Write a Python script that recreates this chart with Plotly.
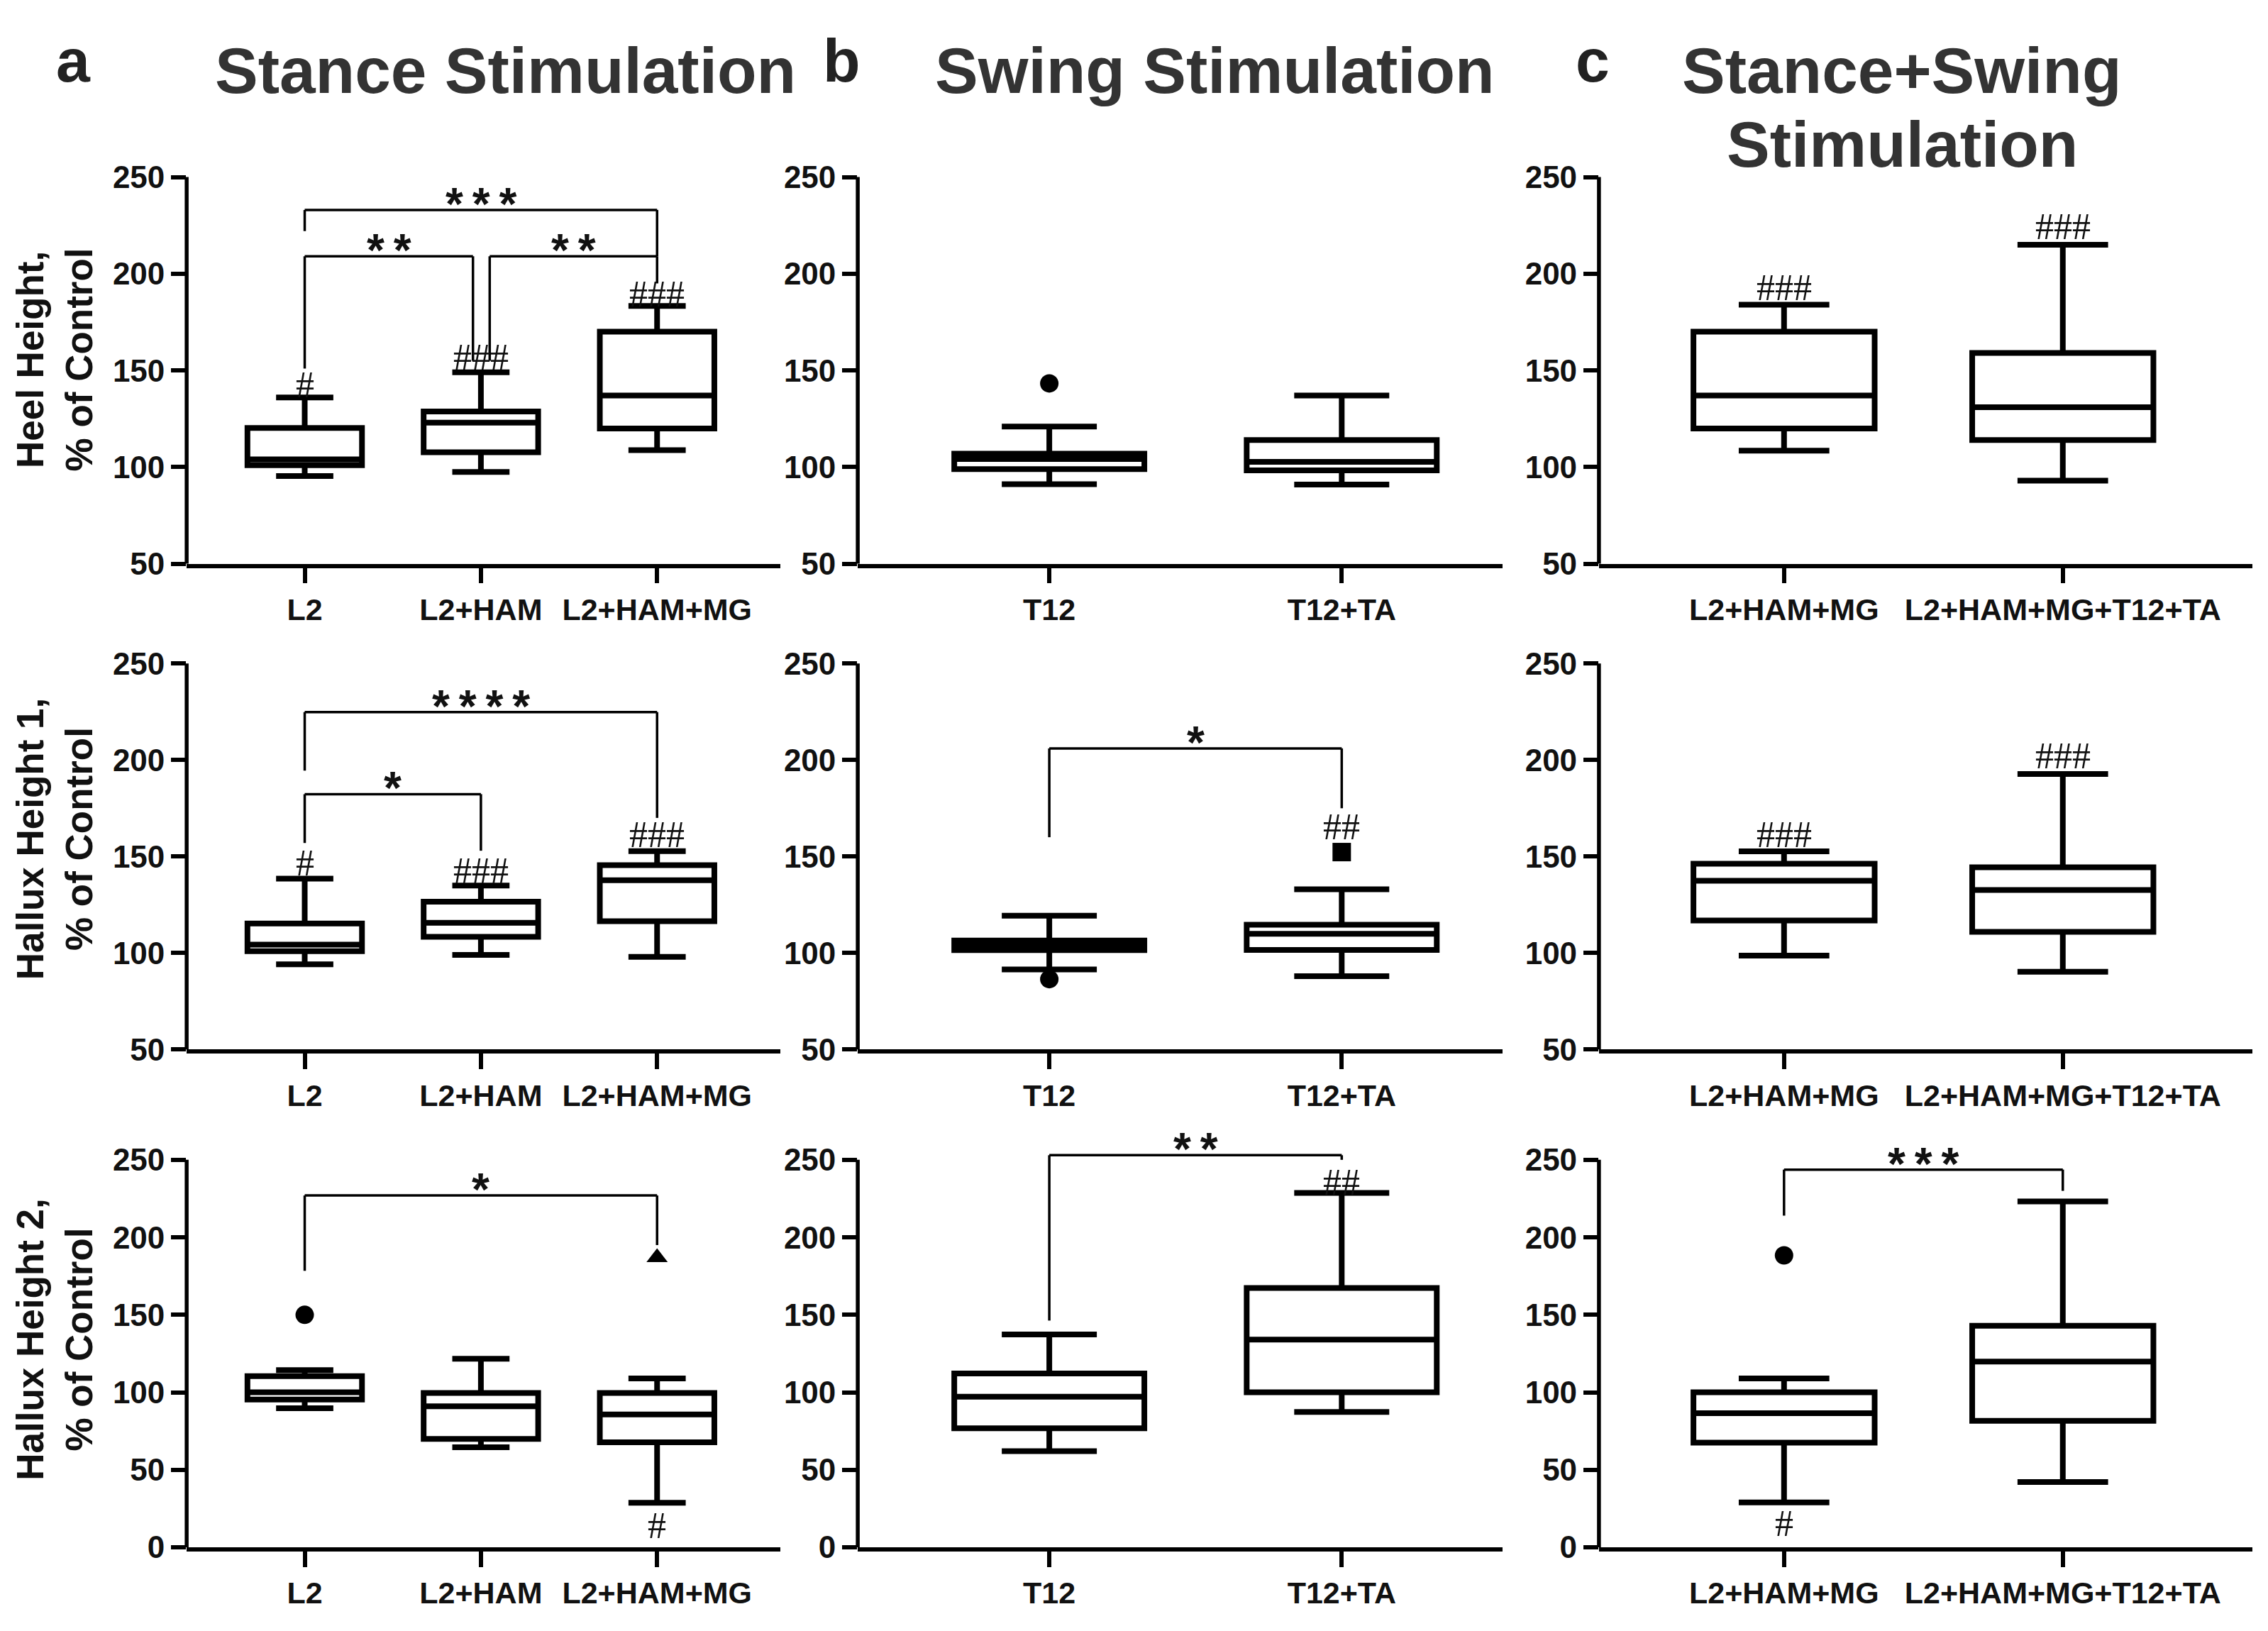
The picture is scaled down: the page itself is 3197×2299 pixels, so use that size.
import plotly.graph_objects as go

# ---------------- data ----------------
cats_stance = ["L2", "L2+HAM", "L2+HAM+MG"]
cats_swing = ["T12", "T12+TA"]
cats_combo = ["L2+HAM+MG", "L2+HAM+MG+T12+TA"]

# five-number summaries per category: (lower whisker, Q1, median, Q3, upper whisker)
heel_stance = [(95.4, 101.0, 104.0, 120.2, 136.0), (97.5, 107.7, 123.0, 128.8, 149.0), (108.8, 120.0, 137.0, 170.0, 183.3)]
heel_swing = [(91.2, 99.0, 104.2, 106.9, 121.0), (91.0, 98.3, 102.7, 114.0, 137.0)]
heel_combo = [(108.5, 120.0, 137.0, 170.0, 184.0), (93.0, 114.0, 131.0, 159.0, 215.0)]

h1_stance = [(94.2, 101.0, 104.4, 115.3, 138.5), (99.0, 108.4, 115.7, 126.6, 135.0), (98.0, 116.5, 137.7, 145.5, 152.8)]
h1_swing = [(91.5, 101.5, 104.0, 106.5, 119.3), (88.0, 101.6, 110.0, 114.7, 133.0)]
h1_combo = [(98.7, 116.9, 137.4, 146.3, 152.7), (90.3, 111.0, 132.7, 144.4, 192.7)]

h2_stance = [(89.7, 95.4, 100.0, 110.5, 114.3), (64.6, 70.0, 91.0, 99.6, 121.7), (28.8, 67.8, 85.7, 99.6, 109.0)]
h2_swing = [(62.1, 76.8, 97.2, 112.2, 137.4), (87.3, 100.0, 134.0, 167.3, 228.7)]
h2_combo = [(29.0, 67.5, 86.5, 100.0, 109.0), (42.2, 81.6, 119.8, 143.0, 223.2)]

# outliers: (category index, value, symbol)
heel_swing_out = [(0, 143.3, "circle")]
h1_swing_out = [(0, 86.5, "circle"), (1, 152.3, "square")]
h2_stance_out = [(0, 150.0, "circle"), (2, 187.0, "triangle-up")]
h2_combo_out = [(0, 188.4, "circle")]

# hash marks: (category index, text, value)
heel_stance_hash = [(0, "#", 142.7), (1, "###", 157.0), (2, "###", 189.6)]
heel_combo_hash = [(0, "###", 192.7), (1, "###", 224.4)]
h1_stance_hash = [(0, "#", 146.6), (1, "###", 142.5), (2, "###", 161.2)]
h1_swing_hash = [(1, "##", 165.3)]
h1_combo_hash = [(0, "###", 161.3), (1, "###", 202.0)]
h2_stance_hash = [(2, "#", 14.1)]
h2_swing_hash = [(1, "##", 235.7)]
h2_combo_hash = [(0, "#", 15.2)]

# significance brackets: (x left, x right, bar height, left arm end, right arm end, stars)
heel_stance_sig = [(0, 2, 233, 222, 209, "***"), (0, 0.955, 209, 151, 155, "**"), (1.05, 2, 209, 155, 195, "**")]
h1_stance_sig = [(0, 2, 224.8, 194.5, 170, "****"), (0, 1, 182.3, 157, 153, "*")]
h2_stance_sig = [(0, 2, 227, 178.4, 195, "*")]
h1_swing_sig = [(0, 1, 206, 160, 175, "*")]
h2_swing_sig = [(0, 1, 253, 146.3, 250, "**")]
h2_combo_sig = [(0, 1, 243.7, 214, 230, "***")]

col_titles = ["Stance Stimulation", "Swing Stimulation"]
row_titles = ["Heel Height,<br>% of Control", "Hallux Height 1,<br>% of Control", "Hallux Height 2,<br>% of Control"]
panel_letters = ["a", "b", "c"]
yticks_top = [50, 100, 150, 200, 250]
yticks_bottom = [0, 50, 100, 150, 200, 250]

# ---------------- layout geometry ----------------
W, H = 3197, 2299
col_dom = [(0.0798, 0.3416), (0.3757, 0.6600), (0.7025, 0.9906)]
col_rng = [(-0.67, 2.70), (-0.655, 1.55), (-0.664, 1.68)]
row_dom = [(0.6542, 0.9118), (0.3532, 0.6104), (0.0448, 0.2993)]
row_lo = [50, 50, 0]
row_hi = 265
row_ticks = [yticks_top, yticks_top, yticks_bottom]
col_cats = [cats_stance, cats_swing, cats_combo]

panels = [
    [(heel_stance, [], heel_stance_hash, heel_stance_sig),
     (heel_swing, heel_swing_out, [], []),
     (heel_combo, [], heel_combo_hash, [])],
    [(h1_stance, [], h1_stance_hash, h1_stance_sig),
     (h1_swing, h1_swing_out, h1_swing_hash, h1_swing_sig),
     (h1_combo, [], h1_combo_hash, [])],
    [(h2_stance, h2_stance_out, h2_stance_hash, h2_stance_sig),
     (h2_swing, [], h2_swing_hash, h2_swing_sig),
     (h2_combo, h2_combo_out, h2_combo_hash, h2_combo_sig)],
]

SANS = "Liberation Sans, Arial, sans-serif"
SERIF = "Liberation Serif, Times New Roman, serif"
BLACK = "#111111"
AXW = 5.5

fig = go.Figure()
annotations = []
shapes = []
layout_axes = {}

for r in range(3):
    for c in range(3):
        n = r * 3 + c + 1
        xa = "x" if n == 1 else f"x{n}"
        ya = "y" if n == 1 else f"y{n}"
        cats = col_cats[c]
        stats, outs, hashes, sigs = panels[r][c]

        for i, (lo, q1, med, q3, hi) in enumerate(stats):
            fig.add_trace(go.Box(
                x=[cats[i]], q1=[q1], median=[med], q3=[q3], lowerfence=[lo], upperfence=[hi],
                xaxis=xa, yaxis=ya, width=0.65, whiskerwidth=0.5, boxpoints=False,
                fillcolor="white", line=dict(color="black", width=8),
                showlegend=False, hoverinfo="skip"))

        for (ci, v, sym) in outs:
            fig.add_trace(go.Scatter(
                x=[cats[ci]], y=[v], mode="markers", xaxis=xa, yaxis=ya,
                marker=dict(symbol=sym, size=26, color="black", line=dict(width=0)),
                showlegend=False, hoverinfo="skip", cliponaxis=False))

        for (ci, txt, v) in hashes:
            annotations.append(dict(
                x=ci, y=v, xref=xa, yref=ya, text=txt, showarrow=False,
                xanchor="center", yanchor="middle",
                font=dict(family=SERIF, size=52, color=BLACK)))

        for (x0, x1, yb, yl, yr, stars) in sigs:
            lw = dict(color="black", width=3.5)
            shapes.append(dict(type="line", xref=xa, yref=ya, x0=x0, x1=x1, y0=yb, y1=yb, line=lw))
            shapes.append(dict(type="line", xref=xa, yref=ya, x0=x0, x1=x0, y0=yb, y1=yl, line=lw))
            shapes.append(dict(type="line", xref=xa, yref=ya, x0=x1, x1=x1, y0=yb, y1=yr, line=lw))
            annotations.append(dict(
                x=(x0 + x1) / 2, y=yb, xref=xa, yref=ya, text="<b>" + "\u2009".join(stars) + "</b>",
                showarrow=False, xanchor="center", yanchor="bottom", yshift=-30,
                font=dict(family=SANS, size=64, color=BLACK)))

        # y axis line (ends at the top tick)
        shapes.append(dict(type="line", xref=f"{xa} domain", yref=ya, x0=0, x1=0,
                           y0=row_lo[r], y1=row_ticks[r][-1], line=dict(color="black", width=AXW)))

        layout_axes["xaxis" if n == 1 else f"xaxis{n}"] = dict(
            domain=list(col_dom[c]), anchor=ya, type="category",
            categoryorder="array", categoryarray=cats, range=list(col_rng[c]),
            showline=True, linecolor="black", linewidth=AXW,
            ticks="outside", ticklen=22, tickwidth=AXW, tickcolor="black",
            showgrid=False, zeroline=False,
            tickfont=dict(family=SANS, size=43, color=BLACK, weight="bold"))
        layout_axes["yaxis" if n == 1 else f"yaxis{n}"] = dict(
            domain=list(row_dom[r]), anchor=xa, range=[row_lo[r], row_hi],
            tickmode="array", tickvals=row_ticks[r], ticktext=[str(t) for t in row_ticks[r]],
            showline=False, ticks="outside", ticklen=21, tickwidth=AXW, tickcolor="black",
            showgrid=False, zeroline=False,
            tickfont=dict(family=SANS, size=44, color=BLACK, weight="bold"))

# row titles (y axis titles)
row_title_y = [0.7808, 0.4837, 0.1736]
for r in range(3):
    annotations.append(dict(
        x=0.0215, y=row_title_y[r], xref="paper", yref="paper", text="<b>" + row_titles[r] + "</b>",
        textangle=-90, showarrow=False, xanchor="center", yanchor="middle",
        font=dict(family=SANS, size=53, color=BLACK)))

# column titles
TITLE = "#333333"
for txt, x, y in [(col_titles[0], 0.2205, 0.9600), (col_titles[1], 0.5333, 0.9600),
                  ("Stance+Swing", 0.8361, 0.9600), ("Stimulation", 0.8361, 0.9140)]:
    annotations.append(dict(
        x=x, y=y, xref="paper", yref="paper", text="<b>" + txt + "</b>", showarrow=False,
        xanchor="center", yanchor="middle", font=dict(family=SANS, size=91, color=TITLE)))

# panel letters
for txt, x in zip(panel_letters, [0.0300, 0.3685, 0.6997]):
    annotations.append(dict(
        x=x, y=0.9660, xref="paper", yref="paper", text="<b>" + txt + "</b>", showarrow=False,
        xanchor="center", yanchor="middle", font=dict(family=SANS, size=86, color="#222222")))

fig.update_layout(
    width=W, height=H, autosize=False,
    margin=dict(l=0, r=0, t=0, b=0),
    paper_bgcolor="white", plot_bgcolor="white",
    showlegend=False, annotations=annotations, shapes=shapes,
    **layout_axes)

fig.write_html("out.html")
